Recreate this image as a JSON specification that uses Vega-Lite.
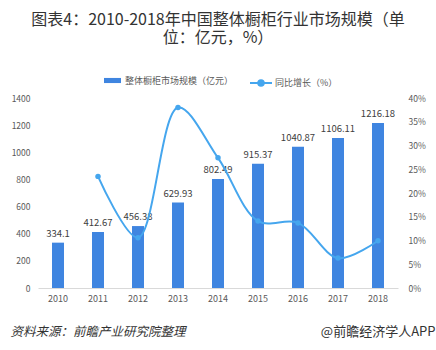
{
  "$schema": "https://vega.github.io/schema/vega-lite/v6.json",
  "autosize": {"type": "none"},
  "padding": {"left": 38, "top": 98, "right": 38, "bottom": 62},
  "width": 360,
  "height": 190,
  "background": "white",
  "config": {
    "font": "Noto Sans CJK SC",
    "view": {"stroke": null}
  },
  "title": {
    "text": ["图表4：2010-2018年中国整体橱柜行业市场规模（单", "位：亿元，%）"],
    "anchor": "middle",
    "frame": "group",
    "fontSize": 16,
    "fontWeight": "normal",
    "lineHeight": 18,
    "color": "#333333",
    "offset": 25
  },
  "data": {
    "values": [
      {"year": "2010", "size": 334.1, "growth": null},
      {"year": "2011", "size": 412.67, "growth": 0.235},
      {"year": "2012", "size": 456.38, "growth": 0.106},
      {"year": "2013", "size": 629.93, "growth": 0.380},
      {"year": "2014", "size": 802.49, "growth": 0.274},
      {"year": "2015", "size": 915.37, "growth": 0.141},
      {"year": "2016", "size": 1040.87, "growth": 0.137},
      {"year": "2017", "size": 1106.11, "growth": 0.063},
      {"year": "2018", "size": 1216.18, "growth": 0.0995}
    ]
  },
  "encoding": {
    "x": {
      "field": "year",
      "type": "ordinal",
      "scale": {"paddingInner": 0, "paddingOuter": 0},
      "axis": {
        "title": null,
        "labelAngle": 0,
        "labelFontSize": 9,
        "labelColor": "#595959",
        "labelPadding": 6,
        "ticks": false,
        "domainColor": "#D9D9D9",
        "domainWidth": 1,
        "grid": false
      }
    }
  },
  "layer": [
    {
      "mark": {"type": "bar", "size": 12},
      "encoding": {
        "y": {
          "field": "size",
          "type": "quantitative",
          "scale": {"domain": [0, 1400], "nice": false},
          "axis": {
            "values": [0, 200, 400, 600, 800, 1000, 1200, 1400],
            "format": "d",
            "title": "资料来源：前瞻产业研究院整理",
            "titleAngle": 0,
            "titleAlign": "left",
            "titleBaseline": "middle",
            "titleX": -28,
            "titleY": 233,
            "titleFontSize": 12.5,
            "titleFontStyle": "italic",
            "titleFontWeight": "normal",
            "titleColor": "#333333",
            "labelFontSize": 8.5,
            "labelColor": "#595959",
            "labelPadding": 8,
            "ticks": false,
            "domain": false,
            "grid": false
          }
        },
        "color": {
          "datum": "整体橱柜市场规模（亿元）",
          "scale": {"range": ["#3F85E0"]},
          "legend": {
            "title": null,
            "orient": "none",
            "legendX": 65,
            "legendY": -27,
            "symbolType": "M-1,-0.3H1V0.3H-1Z",
            "symbolSize": 289,
            "labelFontSize": 9,
            "labelColor": "#595959",
            "labelOffset": 3
          }
        }
      }
    },
    {
      "mark": {"type": "text", "dy": -9, "fontSize": 9.5, "color": "#404040"},
      "encoding": {
        "y": {"field": "size", "type": "quantitative", "scale": {"domain": [0, 1400], "nice": false}, "axis": null},
        "text": {"field": "size", "type": "quantitative", "format": ""}
      }
    },
    {
      "mark": {"type": "line", "interpolate": "catmull-rom", "strokeWidth": 2},
      "encoding": {
        "y": {
          "field": "growth",
          "type": "quantitative",
          "scale": {"domain": [0, 0.4], "nice": false},
          "axis": {
            "orient": "right",
            "values": [0, 0.05, 0.1, 0.15, 0.2, 0.25, 0.3, 0.35, 0.4],
            "format": ".0%",
            "title": "@前瞻经济学人APP",
            "titleAngle": 0,
            "titleAlign": "right",
            "titleBaseline": "middle",
            "titleX": 37,
            "titleY": 233,
            "titleFontSize": 13,
            "titleFontWeight": "normal",
            "titleColor": "#333333",
            "labelFontSize": 8.5,
            "labelColor": "#595959",
            "labelPadding": 10,
            "ticks": false,
            "domain": false,
            "grid": false
          }
        },
        "stroke": {
          "datum": "同比增长（%）",
          "scale": {"range": ["#45A6EE"]},
          "legend": {
            "title": null,
            "orient": "none",
            "legendX": 211,
            "legendY": -27,
            "symbolType": "M-1,0H1M-0.25,0A0.25,0.25 0 1,0 0.25,0A0.25,0.25 0 1,0 -0.25,0Z",
            "symbolSize": 484,
            "symbolStrokeWidth": 2,
            "symbolFillColor": "#45A6EE",
            "labelFontSize": 9,
            "labelColor": "#595959",
            "labelOffset": 2
          }
        }
      }
    },
    {
      "mark": {"type": "point", "filled": true, "size": 30, "color": "#45A6EE", "opacity": 1},
      "encoding": {
        "y": {"field": "growth", "type": "quantitative", "scale": {"domain": [0, 0.4], "nice": false}, "axis": null}
      }
    }
  ],
  "resolve": {"scale": {"y": "independent"}}
}
